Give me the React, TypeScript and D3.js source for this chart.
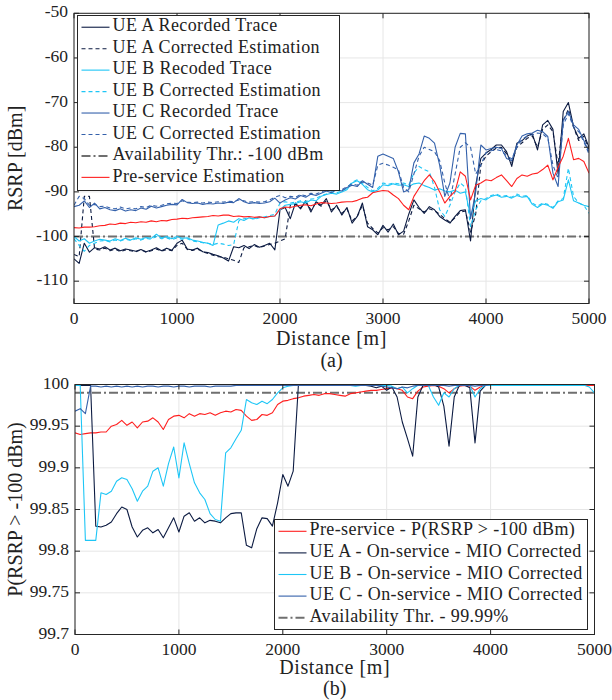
import React from "react";
import * as d3 from "d3";

// sampling of the traces along the route (m)
const distance = d3.range(0, 5001, 50);

const xTicks = [0, 1000, 2000, 3000, 4000, 5000];
const rsrpTicks = [-110, -100, -90, -80, -70, -60, -50];
const probTicks = [99.7, 99.75, 99.8, 99.85, 99.9, 99.95, 100];
const probTickLabels = ["99.7", "99.75", "99.8", "99.85", "99.9", "99.95", "100"];
const rsrpThreshold = -100;
const probThreshold = 99.99;

// (a) RSRP [dBm]
const ueARecorded = [
  -105, -106, -101.5, -103.5, -102.5, -102.8, -102.3, -103, -102.6, -103.2,
  -102.8, -103, -103.3, -102.9, -103.4, -103, -102.5, -103.2, -102.6, -103.1,
  -101.5, -100.8, -102.8, -103, -102.6, -103.4, -103.6, -104, -104.3, -104.8,
  -105.5, -102.3, -102.5, -102, -102.7, -101.8, -102.4, -102, -101.5, -103,
  -94, -93.5, -96, -92.5, -93.8, -92, -94.5, -92.2, -93, -91.5,
  -94.5, -93, -95.2, -93.5, -97, -95.5, -92.5, -97.8, -98.5, -99.6,
  -97.5, -99, -97.2, -99.6, -98.8, -95, -91.8, -93.5, -94.8, -93.3,
  -94, -95.5, -96.3, -97, -95.5, -94.2, -94, -101, -88.5, -82.5,
  -81.3, -80.5, -79.5, -79.5, -81, -84.3, -79.1, -78.5, -77.5, -77,
  -80.6, -75, -74, -76, -86, -72, -70, -75.4, -78, -77,
  -80,
];
const ueACorrected = [
  -104, -104.5, -91, -91, -102.8, -103, -102.6, -103.2, -102.8, -103.4,
  -103, -103.2, -103.4, -103, -103.5, -103.2, -102.8, -103.3, -102.9, -103.2,
  -102, -101.5, -102.9, -103.1, -102.8, -103.4, -103.8, -104.2, -104.5, -104.6,
  -105, -105.3, -105.8, -102.5, -102.3, -102, -102.5, -102.1, -101.8, -101.5,
  -101, -100.5, -93, -92.8, -93.5, -92.3, -94, -92.5, -93.2, -92,
  -94, -93.3, -94.8, -93.8, -96.5, -95.5, -93, -97, -98.2, -99.2,
  -98, -98.5, -97.8, -99.3, -99.5, -96.5, -93, -93.8, -94.5, -93.8,
  -94.2, -95, -96, -96.8, -95.8, -94.5, -94.3, -99, -95, -84,
  -82, -81, -80.2, -80, -81.5, -83.5, -80, -79, -78, -77.5,
  -80, -76, -75, -76.5, -84, -74, -71.5, -75.5, -78.5, -77.5,
  -80.5,
];
const ueBRecorded = [
  -100, -101, -100.5, -101.5, -101, -100.6, -100.8, -101, -100.5, -100.9,
  -100.4, -100.8, -100.3, -100.6, -100.2, -100.4, -99.5, -100.3, -100, -100.5,
  -100, -100.4, -100.3, -100.8, -101, -101.3, -101.5, -102, -97.4, -97,
  -96.5, -96.8, -96, -96.4, -95.8, -96, -95.6, -95.8, -95.5, -95.4,
  -94, -93, -92.8, -92.6, -92.2, -92.5, -91.8, -92, -91, -90.6,
  -90.3, -90.5, -90, -89.5, -88, -87.5, -88.3, -89.5, -90, -89.6,
  -88.4, -88.6, -88.2, -88.5, -88.4, -88.8, -88.2, -88, -88.6, -89,
  -89.6, -89.3, -89.8, -90, -89.6, -90.3, -90, -95.5, -92, -91.5,
  -91.8, -91, -90.7, -91.2, -91, -91.4, -90.8, -91.2, -91, -92.8,
  -93.5, -92.7, -93, -93.7, -92.2, -91.8, -87.3, -92, -92.5, -93,
  -93.3,
];
const ueBCorrected = [
  -100.5, -102, -103.3, -102, -101.5, -101, -100.9, -101.2, -100.8, -101,
  -100.6, -100.9, -100.5, -100.8, -100.4, -100.6, -100, -100.5, -100.3, -100.7,
  -100.3, -100.6, -100.5, -101, -101.2, -101.4, -101.5, -101.8, -101.5, -101.7,
  -102, -101.8, -96.5, -96, -95.8, -96.2, -95.8, -95.6, -95.3, -95,
  -92.5, -92.2, -92.5, -92.3, -92, -92.2, -91.6, -91.5, -90.8, -90.5,
  -90, -90.2, -89.8, -89.2, -87.8, -87.3, -88, -89, -89.8, -89.2,
  -88, -88.3, -88, -88.2, -88, -88.5, -85.8, -84.3, -85, -85.5,
  -89, -94, -95.5, -93, -90, -88, -89, -97.8, -94, -92,
  -91.5, -90.8, -90.5, -91, -90.8, -91.2, -90.5, -91, -90.8, -92.5,
  -93.2, -92.5, -92.8, -93.5, -92, -91.5, -84.7, -91, -92.5, -93,
  -94.8,
];
const ueCRecorded = [
  -93.3, -93, -92, -93.5, -92.5, -93.8, -93.5, -94, -94.2, -93.8,
  -94.3, -94, -94.2, -93.6, -93.9, -93.2, -93.6, -93.3, -93, -92.8,
  -92.9, -91.7, -92.4, -92.6, -92.5, -92.8, -92.6, -92.7, -92.5, -92.6,
  -92.3, -92.4, -91.5, -92.2, -92.6, -92.4, -92.6, -92.5, -92.2, -91.4,
  -92.5, -91.8, -91.3, -91.6, -90.8, -91.2, -90.5, -90.8, -90.3, -89.8,
  -90.2, -89.5, -89.8, -89, -88.5, -88.8, -87.5, -88.3, -89, -82,
  -81.5, -82, -82.5, -85.5, -90, -89.5, -83.5, -81.5, -77.5, -78,
  -79.1, -84, -91, -88, -80, -76.9, -77, -96, -90, -79.5,
  -80.6, -80.3, -80, -80.3, -82.5, -83, -79.5, -77.5, -77, -76.8,
  -76.2, -76.5, -77.6, -85.8, -88.8, -74, -72, -75, -76, -78.5,
  -81,
];
const ueCCorrected = [
  -93, -91, -91.5, -93, -92.8, -93.3, -93.2, -93.6, -93.8, -93.4,
  -93.8, -93.6, -93.8, -93.3, -93.5, -93, -93.2, -93, -92.7, -92.5,
  -92.6, -92, -92.3, -92.4, -92.3, -92.5, -92.3, -92.4, -92.2, -92.3,
  -92.1, -92.2, -91.8, -92, -92.3, -92.2, -92.3, -92.2, -91.8, -91.2,
  -90.8, -91.3, -91, -91.2, -90.6, -90.9, -90.3, -90.5, -90, -89.6,
  -89.8, -89.3, -89.5, -88.8, -88.2, -88.5, -87.8, -88, -88.5, -84,
  -83.6, -84, -84.5, -85.1, -89, -90, -86, -82, -80, -80.5,
  -81, -83, -88, -92, -86, -80, -79, -80, -86, -84,
  -81.2, -80.8, -80.5, -80.8, -82, -82.6, -80, -78.2, -77.5, -77.2,
  -76.8, -77, -78, -84, -87, -75, -72.5, -75.5, -76.5, -78.8,
  -81.5,
];
const preService = [
  -98, -98.1, -97.9, -97.9, -97.8, -97.6, -97.5, -97.2, -97.3, -97,
  -97.1, -96.8, -96.9, -96.7, -96.8, -96.5, -96.7, -96.4, -96.5, -96.2,
  -96.1, -95.9, -96, -95.8, -95.7, -95.6, -95.5, -95.3, -95.4, -95.2,
  -95.2, -95.5, -95.4, -95.6, -95.5, -95.7, -95.6, -95.8, -95.5, -95.4,
  -93.8, -93.4, -93.5, -93.2, -93, -92.9, -93.1, -92.7, -92.4, -92.5,
  -92.6, -92.5, -92.3, -92.2, -92.2, -91.9, -91.4, -91.2, -90.2, -89.9,
  -89.7, -89.8, -90.7, -91.5, -93, -94, -91, -89.2, -87.5, -86.2,
  -87.7, -90, -92.5, -91, -89.9, -85.5, -86.5, -91.8, -88.5, -88,
  -87.3, -87.5, -86.8, -86.2, -87.5, -88.8, -87, -86.2, -86.5, -86,
  -85.8, -85, -84, -87.3, -84.5, -82, -78, -82.8, -82.5, -83.2,
  -85.8,
];

// (b) P(RSRP > -100 dBm) [%]
const probPreService = [
  99.942, 99.94, 99.941, 99.942, 99.942, 99.943, 99.943, 99.95, 99.952, 99.957,
  99.951, 99.955, 99.948, 99.955, 99.956, 99.96, 99.955, 99.946, 99.958, 99.962,
  99.963, 99.96, 99.965, 99.962, 99.965, 99.964, 99.966, 99.963, 99.966, 99.968,
  99.967, 99.97, 99.969, 99.962, 99.957, 99.958, 99.964, 99.963, 99.966, 99.976,
  99.98, 99.981, 99.983, 99.984, 99.986, 99.987, 99.988, 99.987, 99.989, 99.989,
  99.988, 99.987, 99.986, 99.989, 99.99, 99.991, 99.992, 99.993, 99.993, 99.994,
  99.995, 99.996, 99.995, 99.993, 99.985, 99.983, 99.992, 99.997, 99.998, 99.999,
  99.998, 99.995, 99.99, 99.995, 99.998, 99.999, 99.998, 99.993, 99.997, 99.999,
  99.999, 99.999, 99.999, 99.999, 99.999, 99.999, 99.999, 99.999, 99.999, 99.999,
  99.999, 99.999, 99.999, 99.999, 99.999, 99.999, 99.999, 99.999, 99.999, 99.999,
  99.999,
];
const probUEA = [
  99.999, 99.999, 99.999, 99.999, 99.83, 99.829, 99.831, 99.835, 99.845, 99.853,
  99.85, 99.829, 99.817, 99.825, 99.828, 99.822, 99.826, 99.816, 99.828, 99.84,
  99.823, 99.842, 99.846, 99.836, 99.84, 99.834, 99.837, 99.836, 99.834, 99.84,
  99.845, 99.846, 99.846, 99.807, 99.804, 99.827, 99.84, 99.839, 99.83, 99.858,
  99.892, 99.878, 99.896, 99.999, 100, 100, 100, 100, 100, 100,
  100, 100, 100, 100, 100, 100, 99.999, 99.998, 99.996, 99.998,
  99.993, 99.997, 99.985, 99.955, 99.935, 99.914, 99.985, 99.999, 100, 100,
  99.997, 99.974, 99.926, 99.985, 99.999, 99.999, 99.996, 99.93, 99.992, 99.999,
  100, 100, 100, 100, 100, 100, 100, 100, 100, 100,
  100, 100, 100, 100, 100, 100, 100, 100, 100, 100,
  100,
];
const probUEB = [
  99.999, 99.999, 99.813, 99.813, 99.813, 99.87, 99.868, 99.872, 99.884, 99.888,
  99.886, 99.875, 99.86, 99.872, 99.878, 99.896, 99.9, 99.878, 99.905, 99.925,
  99.888, 99.93, 99.905, 99.882, 99.87, 99.862, 99.845, 99.838, 99.836, 99.918,
  99.924, 99.935, 99.945, 99.982, 99.978, 99.976, 99.98, 99.977, 99.982, 99.99,
  99.996, 99.998, 99.999, 99.999, 99.999, 99.999, 99.999, 99.999, 99.999, 99.999,
  99.999, 99.999, 99.999, 99.999, 99.998, 99.999, 99.999, 99.999, 99.999, 99.999,
  99.999, 99.998, 99.995, 99.997, 99.99, 99.995, 99.999, 99.999, 99.999, 99.985,
  99.975, 99.99, 99.985, 99.995, 99.999, 99.999, 99.999, 99.985, 99.995, 99.999,
  99.999, 99.999, 99.999, 99.999, 99.999, 99.999, 99.999, 99.999, 99.999, 99.999,
  99.999, 99.999, 99.999, 99.999, 99.999, 99.999, 99.999, 99.999, 99.999, 99.997,
  99.99,
];
const probUEC = [
  99.968, 99.971, 99.965, 99.998, 99.998, 99.997, 99.998, 99.997, 99.998, 99.997,
  99.998, 99.997, 99.998, 99.997, 99.998, 99.998, 99.997, 99.998, 99.998, 99.997,
  99.998, 99.998, 99.997, 99.998, 99.998, 99.998, 99.997, 99.998, 99.998, 99.998,
  99.998, 99.999, 99.999, 99.999, 99.999, 99.999, 99.999, 99.999, 99.999, 99.999,
  99.999, 99.999, 99.999, 99.999, 99.999, 99.999, 99.999, 99.999, 99.999, 99.999,
  99.999, 99.999, 99.999, 99.999, 99.999, 99.999, 99.999, 99.999, 99.999, 99.998,
  99.997, 99.996, 99.995, 99.997, 99.996, 99.998, 99.999, 99.999, 99.999, 99.999,
  99.999, 99.999, 99.998, 99.999, 99.999, 99.999, 99.999, 99.998, 99.999, 99.999,
  100, 100, 100, 100, 100, 100, 100, 100, 100, 100,
  100, 100, 100, 100, 100, 100, 100, 100, 100, 100,
  100,
];

const legendA = [
  "UE A Recorded Trace",
  "UE A Corrected Estimation",
  "UE B Recoded Trace",
  "UE B Corrected Estimation",
  "UE C Recorded Trace",
  "UE C Corrected Estimation",
  "Availability Thr.: -100 dBm",
  "Pre-service Estimation",
];
const legendB = [
  "Pre-service - P(RSRP > -100 dBm)",
  "UE A - On-service - MIO Corrected",
  "UE B - On-service - MIO Corrected",
  "UE C - On-service - MIO Corrected",
  "Availability Thr. - 99.99%",
];

const NAVY = "#0c1b42";
const CYAN = "#1ec6f6";
const BLUE = "#3461ab";
const RED = "#ff1f1f";
const GRAY = "#6f6f6f";
const AXIS = "#262626";
const FONT = "'Liberation Serif', 'DejaVu Serif', 'Times New Roman', serif";
const DASH = "4,3";
const DASHDOT = "9,3,2,3";

type Style = { color: string; dash?: string; width?: number };

function Panel(props: any) {
  const { id, left, right, top, bottom, yDomain, yTicks, yTickLabels, series, styles, threshold,
    legend, legendStyles, legendBox, legendRow, yLabel, caption, labelGap, captionGap } = props;
  const x = d3.scaleLinear().domain([0, 5000]).range([left, right]);
  const y = d3.scaleLinear().domain(yDomain).range([bottom, top]);
  const line = d3.line<number>().x((_, i) => x(distance[i])).y((d) => y(d));
  const midX = (left + right) / 2;
  const midY = (top + bottom) / 2;

  return (
    <g>
      <defs>
        <clipPath id={id}>
          <rect x={left} y={top - 1.5} width={right - left} height={bottom - top + 3} />
        </clipPath>
      </defs>
      {/* grid */}
      {xTicks.map((t) => (
        <line key={"gx" + t} x1={x(t)} x2={x(t)} y1={top} y2={bottom} stroke="#e6e6e6" />
      ))}
      {yTicks.map((t: number) => (
        <line key={"gy" + t} x1={left} x2={right} y1={y(t)} y2={y(t)} stroke="#e6e6e6" />
      ))}
      {/* data */}
      <g clipPath={`url(#${id})`}>
        <line x1={left} x2={right} y1={y(threshold)} y2={y(threshold)} stroke={GRAY}
          strokeWidth={2} strokeDasharray={DASHDOT} />
        {series.map((s: number[], i: number) => {
          const st: Style = styles[i];
          return (
            <path key={i} d={line(s) || ""} fill="none" stroke={st.color}
              strokeWidth={st.width || 1.1} strokeDasharray={st.dash} strokeLinejoin="round" />
          );
        })}
      </g>
      {/* box and ticks */}
      <rect x={left} y={top} width={right - left} height={bottom - top} fill="none" stroke={AXIS} strokeWidth={1} />
      {xTicks.map((t) => (
        <g key={"tx" + t}>
          <line x1={x(t)} x2={x(t)} y1={bottom} y2={bottom - 5} stroke={AXIS} />
          <line x1={x(t)} x2={x(t)} y1={top} y2={top + 5} stroke={AXIS} />
          <text x={x(t)} y={bottom + 16} textAnchor="middle" dominantBaseline="middle"
            fontFamily={FONT} fontSize={17.5} fill="#222">{t}</text>
        </g>
      ))}
      {yTicks.map((t: number, i: number) => (
        <g key={"ty" + t}>
          <line x1={left} x2={left + 5} y1={y(t)} y2={y(t)} stroke={AXIS} />
          <line x1={right} x2={right - 5} y1={y(t)} y2={y(t)} stroke={AXIS} />
          <text x={left - 6} y={y(t)} textAnchor="end" dominantBaseline="middle"
            fontFamily={FONT} fontSize={17.5} fill="#222">{yTickLabels[i]}</text>
        </g>
      ))}
      <text x={midX} y={bottom + labelGap} textAnchor="middle" dominantBaseline="middle"
        fontFamily={FONT} fontSize={20} letterSpacing={0.6} fill="#222">Distance [m]</text>
      <text x={midX} y={bottom + captionGap} textAnchor="middle" dominantBaseline="middle"
        fontFamily={FONT} fontSize={20} fill="#222">{caption}</text>
      <text transform={`translate(17,${midY}) rotate(-90)`} textAnchor="middle" dominantBaseline="middle"
        fontFamily={FONT} fontSize={20} fill="#222">{yLabel}</text>
      {/* legend */}
      <rect x={legendBox[0]} y={legendBox[1]} width={legendBox[2]} height={legendBox[3]}
        fill="#fff" stroke={AXIS} strokeWidth={1} />
      {legend.map((label: string, i: number) => {
        const st: Style = legendStyles[i];
        const cy = legendBox[1] + legendRow / 2 + 1 + i * legendRow;
        const lx = legendBox[0] + 4;
        return (
          <g key={label}>
            <line x1={lx} x2={lx + 28} y1={cy} y2={cy} stroke={st.color}
              strokeWidth={st.width || 1.1} strokeDasharray={st.dash} />
            <text x={lx + 31} y={cy} dominantBaseline="middle" fontFamily={FONT}
              fontSize={18} letterSpacing={0.4} fill="#222">{label}</text>
          </g>
        );
      })}
    </g>
  );
}

export default function App() {
  const stylesA: Style[] = [
    { color: NAVY },
    { color: NAVY, dash: DASH },
    { color: CYAN },
    { color: CYAN, dash: DASH },
    { color: BLUE },
    { color: BLUE, dash: DASH },
    { color: RED },
  ];
  const legendStylesA: Style[] = [
    stylesA[0], stylesA[1], stylesA[2], stylesA[3], stylesA[4], stylesA[5],
    { color: GRAY, dash: DASHDOT, width: 2 },
    stylesA[6],
  ];
  const stylesB: Style[] = [{ color: RED }, { color: NAVY }, { color: CYAN }, { color: BLUE }];
  const legendStylesB: Style[] = [...stylesB, { color: GRAY, dash: DASHDOT, width: 2 }];

  return (
    <svg width={612} height={700} style={{ position: "absolute", left: 0, top: 0, background: "#fff" }}>
      <Panel
        id="clipA"
        left={74} right={589} top={13.3} bottom={303.5}
        yDomain={[-115, -50]}
        yTicks={rsrpTicks}
        yTickLabels={rsrpTicks.map(String)}
        series={[ueARecorded, ueACorrected, ueBRecorded, ueBCorrected, ueCRecorded, ueCCorrected, preService]}
        styles={stylesA}
        threshold={rsrpThreshold}
        legend={legendA}
        legendStyles={legendStylesA}
        legendBox={[77.5, 15.5, 262, 175]}
        legendRow={21.45}
        yLabel="RSRP [dBm]"
        caption="(a)"
        labelGap={37}
        captionGap={59}
      />
      <Panel
        id="clipB"
        left={75} right={594.5} top={384.5} bottom={634.5}
        yDomain={[99.7, 100]}
        yTicks={probTicks}
        yTickLabels={probTickLabels}
        series={[probPreService, probUEA, probUEB, probUEC]}
        styles={stylesB}
        threshold={probThreshold}
        legend={legendB}
        legendStyles={legendStylesB}
        legendBox={[274.5, 519.5, 313, 110]}
        legendRow={21.6}
        yLabel="P(RSRP > -100 dBm)"
        caption="(b)"
        labelGap={35}
        captionGap={56}
      />
    </svg>
  );
}
